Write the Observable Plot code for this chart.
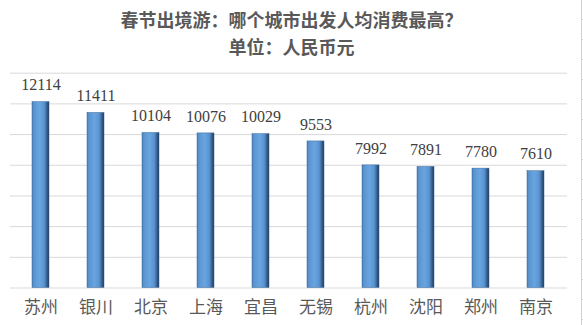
<!DOCTYPE html>
<html>
<head>
<meta charset="utf-8">
<script src="https://cdn.jsdelivr.net/npm/d3@7"></script>
<script src="https://cdn.jsdelivr.net/npm/@observablehq/plot@0.6"></script>
<style>
  html, body { margin: 0; padding: 0; background: #fff; }
  #wrap { position: relative; width: 583px; height: 325px; overflow: hidden; }
  #title { height: 62px; box-sizing: border-box; padding-top: 6px; text-align: center;
    font-family: "Noto Sans CJK SC", sans-serif; font-weight: bold; color: #595959;
    font-size: 18px; line-height: 27px; }
  #edge { position: absolute; left: 581px; top: 0; width: 1px; height: 325px; background: #d0d0d0; }
  #ticks { position: absolute; left: 582px; top: 0; width: 1px; height: 325px;
    background: repeating-linear-gradient(to bottom, #fff 0px, #fff 19px, #d0d0d0 19px, #d0d0d0 20px); }
</style>
</head>
<body>
<div id="wrap">
  <div id="title"><div>春节出境游：哪个城市出发人均消费最高？</div><div>单位：人民币元</div></div>
  <div id="chart"></div>
  <div id="edge"></div>
  <div id="ticks"></div>
</div>
<script>
const cities = ["苏州", "银川", "北京", "上海", "宜昌", "无锡", "杭州", "沈阳", "郑州", "南京"];
const values = [12114, 11411, 10104, 10076, 10029, 9553, 7992, 7891, 7780, 7610];
const gridTicks = [0, 2000, 4000, 6000, 8000, 10000, 12000, 14000];

const data = cities.map((c, i) => ({city: c, value: values[i]}));

const chart = Plot.plot({
  width: 583,
  height: 263,
  marginTop: 10.7,
  marginBottom: 37.5,
  marginLeft: 10,
  marginRight: 16,
  x: {domain: cities, paddingInner: 0.69, paddingOuter: 0.345, label: null, tickSize: 0, tickPadding: 13},
  y: {domain: [0, 14000], axis: null},
  style: {fontFamily: "Noto Sans CJK SC, sans-serif", fontSize: "17px", color: "#595959", background: "#fff"},
  marks: [
    Plot.ruleY(gridTicks, {stroke: "#d9d9d9", strokeWidth: 1}),
    Plot.barY(data, {x: "city", y: "value", fill: "url(#barGrad)", stroke: "#3a6a9c", strokeWidth: 0.5}),
    Plot.text(data, {x: "city", y: "value", text: d => String(d.value), dy: -17,
      fontFamily: "Liberation Serif, DejaVu Serif, serif", fontSize: 16, fill: "#404040"})
  ]
});

// gradient definition for cylinder-like bars
const ns = "http://www.w3.org/2000/svg";
const defs = document.createElementNS(ns, "defs");
const grad = document.createElementNS(ns, "linearGradient");
grad.setAttribute("id", "barGrad");
grad.setAttribute("x1", "0"); grad.setAttribute("x2", "1");
grad.setAttribute("y1", "0"); grad.setAttribute("y2", "0");
[["0%", "#4a7fba"], ["12%", "#5b95d0"], ["45%", "#68a5e0"], ["72%", "#5a93cf"], ["85%", "#3c6a9c"], ["100%", "#1e3556"]]
  .forEach(([o, c]) => {
    const s = document.createElementNS(ns, "stop");
    s.setAttribute("offset", o); s.setAttribute("stop-color", c);
    grad.appendChild(s);
  });
defs.appendChild(grad);
chart.insertBefore(defs, chart.firstChild);

document.getElementById("chart").appendChild(chart);
</script>
</body>
</html>
